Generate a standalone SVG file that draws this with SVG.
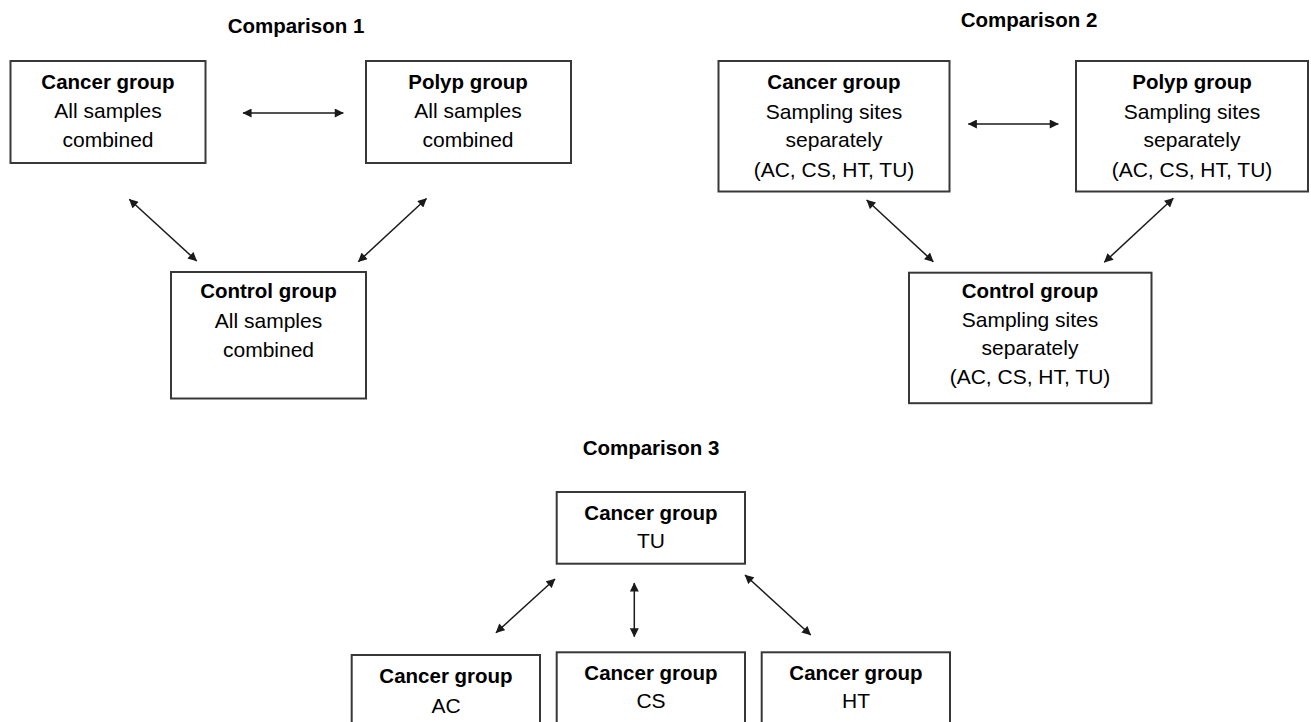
<svg xmlns="http://www.w3.org/2000/svg" width="1311" height="722" viewBox="0 0 1311 722">
  <defs>
    <style>
      .box { fill: #ffffff; stroke: #383838; stroke-width: 2; }
      .t { font-family: "Liberation Sans", Arial, sans-serif; font-size: 21px; fill: #000; text-anchor: middle; }
      .b { font-weight: bold; font-size: 20.5px; }
      .title { font-family: "Liberation Sans", Arial, sans-serif; font-size: 20.5px; font-weight: bold; fill: #000; text-anchor: middle; }
      .arr { stroke: #1a1a1a; stroke-width: 1.5; fill: none; marker-start: url(#ah); marker-end: url(#ah); }
    </style>
    <marker id="ah" viewBox="0 0 10 10" refX="9.5" refY="5" markerWidth="10" markerHeight="9" markerUnits="userSpaceOnUse" orient="auto-start-reverse">
      <path d="M0,0 L10,5 L0,10 z" fill="#1a1a1a"/>
    </marker>
  </defs>
  <rect width="1311" height="722" fill="#ffffff"/>

  <g id="titles">
    <text class="title" x="296" y="33">Comparison 1</text>
    <text class="title" x="1029" y="27">Comparison 2</text>
    <text class="title" x="651" y="455">Comparison 3</text>
  </g>

  <g id="c1-cancer">
    <rect class="box" x="10.5" y="61" width="195" height="102"/>
    <text class="t b" x="108" y="89.3">Cancer group</text>
    <text class="t" x="108" y="118.3">All samples</text>
    <text class="t" x="108" y="146.7">combined</text>
  </g>
  <g id="c1-polyp">
    <rect class="box" x="366" y="61" width="205" height="102"/>
    <text class="t b" x="468" y="89.3">Polyp group</text>
    <text class="t" x="468" y="118.3">All samples</text>
    <text class="t" x="468" y="146.7">combined</text>
  </g>
  <g id="c1-control">
    <rect class="box" x="171" y="272" width="195" height="126.5"/>
    <text class="t b" x="268.5" y="298.3">Control group</text>
    <text class="t" x="268.5" y="328.3">All samples</text>
    <text class="t" x="268.5" y="356.7">combined</text>
  </g>

  <g id="c2-cancer">
    <rect class="box" x="718.5" y="61" width="231" height="130.5"/>
    <text class="t b" x="834" y="89.3">Cancer group</text>
    <text class="t" x="834" y="118.7">Sampling sites</text>
    <text class="t" x="834" y="146.7">separately</text>
    <text class="t" x="834" y="176.5">(AC, CS, HT, TU)</text>
  </g>
  <g id="c2-polyp">
    <rect class="box" x="1076" y="61" width="232" height="130.5"/>
    <text class="t b" x="1192" y="89.3">Polyp group</text>
    <text class="t" x="1192" y="118.7">Sampling sites</text>
    <text class="t" x="1192" y="146.7">separately</text>
    <text class="t" x="1192" y="176.5">(AC, CS, HT, TU)</text>
  </g>
  <g id="c2-control">
    <rect class="box" x="909" y="272.7" width="242.5" height="130.5"/>
    <text class="t b" x="1030" y="298.3">Control group</text>
    <text class="t" x="1030" y="326.7">Sampling sites</text>
    <text class="t" x="1030" y="355">separately</text>
    <text class="t" x="1030" y="384.3">(AC, CS, HT, TU)</text>
  </g>

  <g id="c3-tu">
    <rect class="box" x="556.7" y="492" width="188.3" height="71.7"/>
    <text class="t b" x="651" y="520">Cancer group</text>
    <text class="t" x="651" y="548.3">TU</text>
  </g>
  <g id="c3-ac">
    <rect class="box" x="351.7" y="655" width="188.3" height="80"/>
    <text class="t b" x="446" y="683.3">Cancer group</text>
    <text class="t" x="446" y="713.3">AC</text>
  </g>
  <g id="c3-cs">
    <rect class="box" x="556.7" y="652.3" width="188.3" height="80"/>
    <text class="t b" x="651" y="680">Cancer group</text>
    <text class="t" x="651" y="708.3">CS</text>
  </g>
  <g id="c3-ht">
    <rect class="box" x="761.7" y="652.3" width="188.3" height="80"/>
    <text class="t b" x="856" y="680">Cancer group</text>
    <text class="t" x="856" y="708.3">HT</text>
  </g>

  <g id="connectors">
    <line class="arr" x1="243" y1="113" x2="343.3" y2="113"/>
    <line class="arr" x1="129.3" y1="199.3" x2="196.7" y2="261"/>
    <line class="arr" x1="426.5" y1="198.5" x2="358.3" y2="261.7"/>
    <line class="arr" x1="968.3" y1="124" x2="1058.3" y2="124"/>
    <line class="arr" x1="866.7" y1="200" x2="933.3" y2="261.7"/>
    <line class="arr" x1="1173.3" y1="198.3" x2="1104.3" y2="262.3"/>
    <line class="arr" x1="555" y1="579" x2="496" y2="632.7"/>
    <line class="arr" x1="634.3" y1="583" x2="634.3" y2="636.7"/>
    <line class="arr" x1="745" y1="575" x2="810.7" y2="635"/>
  </g>
</svg>
